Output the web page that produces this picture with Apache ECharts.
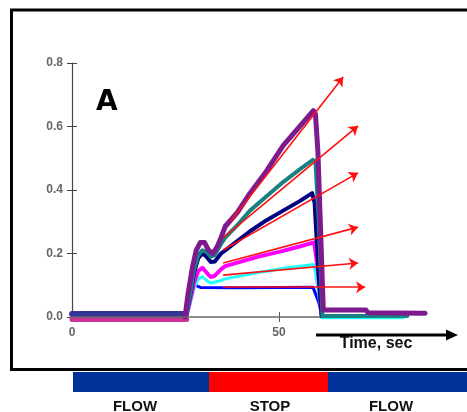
<!DOCTYPE html>
<html>
<head>
<meta charset="utf-8">
<script src="https://cdn.jsdelivr.net/npm/echarts@6/dist/echarts.min.js"></script>
<style>
  html, body { margin: 0; padding: 0; background: #fff; }
  #chart { width: 467px; height: 412px; }
</style>
</head>
<body>
<div id="chart"></div>
<script>
// time (s) / signal pairs
const blueBase = [[0, 0.0095], [27.4, 0.0095]];
const magentaBase = [[0, -0.008], [27.7, -0.008]];

const blue = [[27.3, 0.01], [28.2, 0.05], [29, 0.09], [29.8, 0.1], [31, 0.093], [40, 0.092], [50, 0.093], [58.2, 0.094], [59.5, 0.05], [60.5, 0.0]];
const cyan = [[27.6, 0], [28.5, 0.04], [29.5, 0.09], [30.5, 0.12], [31.5, 0.127], [32.5, 0.115], [33.5, 0.107], [34.5, 0.11], [36, 0.115], [37, 0.12], [45, 0.14], [52, 0.155], [58.5, 0.165], [59.5, 0.08], [60.3, -0.002], [80, -0.002]];
const magenta = [[27.6, 0], [28.5, 0.05], [29.5, 0.11], [30.5, 0.145], [31.5, 0.155], [32.5, 0.14], [33.5, 0.126], [34.5, 0.13], [36, 0.15], [37, 0.16], [41, 0.175], [45, 0.19], [50, 0.205], [55, 0.222], [58.5, 0.235], [59.3, 0.16], [60.3, 0.003]];
const navy = [[27.5, 0], [28.5, 0.065], [29.5, 0.14], [30.5, 0.185], [31.5, 0.2], [32.5, 0.19], [33.5, 0.173], [34.5, 0.175], [36, 0.2], [37, 0.21], [40, 0.24], [43, 0.27], [47, 0.305], [51, 0.335], [55, 0.365], [58, 0.39], [58.6, 0.36], [59.5, 0.15], [60.3, 0.003]];
const teal = [[27.5, 0], [28.5, 0.07], [29.5, 0.15], [30.5, 0.195], [31.5, 0.21], [32.5, 0.205], [33.5, 0.19], [34.5, 0.195], [36, 0.23], [37, 0.25], [40, 0.29], [43, 0.335], [47, 0.38], [51, 0.425], [55, 0.465], [58.2, 0.495], [58.8, 0.49], [59.6, 0.3], [60.5, 0.003], [81, 0.003]];
const purple = [[27.3, 0], [28, 0.07], [29, 0.15], [30, 0.21], [31, 0.235], [32, 0.235], [33, 0.21], [34, 0.2], [35, 0.22], [36, 0.25], [37, 0.285], [40, 0.33], [43, 0.39], [47, 0.46], [51, 0.54], [55, 0.6], [58.3, 0.65], [58.8, 0.64], [59.4, 0.52], [60.7, 0.022], [71, 0.022], [71.5, 0.013], [85.3, 0.012]];

// red slope arrows: [start, tip]
const arrows = [
  [[38.2, 0.30], [65.5, 0.756]],
  [[36.5, 0.249], [69.1, 0.602]],
  [[36.5, 0.211], [69.1, 0.454]],
  [[36.5, 0.170], [69.1, 0.283]],
  [[36.5, 0.132], [69.1, 0.170]],
  [[36.5, 0.094], [70.8, 0.094]]
];

const xTicks = [0, 50];
const xAxisEnd = 60;
const phases = ['FLOW', 'STOP', 'FLOW'];

const chart = echarts.init(document.getElementById('chart'));

function trace(data, color, width) {
  return {
    type: 'line',
    data: data,
    symbol: 'none',
    clip: false,
    silent: true,
    z: 2,
    lineStyle: { color: color, width: width, join: 'round', cap: 'round' }
  };
}

const labelFont = { color: '#666', fontSize: 12, fontWeight: 'bold', fontFamily: 'Liberation Sans' };

chart.setOption({
  animation: false,
  backgroundColor: '#fff',
  // 4.14 px per second, axis drawn up to 60 s, traces run on to ~85 s
  grid: { left: 72, top: 63, width: 372.6, height: 254 },
  xAxis: [
    {
      type: 'value', min: 0, max: 90,
      axisLine: { show: false },
      axisTick: { length: 5, customValues: xTicks, lineStyle: { color: '#555' } },
      axisLabel: Object.assign({ margin: 10, customValues: xTicks }, labelFont),
      splitLine: { show: false }
    },
    {
      type: 'value', min: 0, max: 90, position: 'bottom',
      axisLine: { show: false },
      axisTick: { inside: true, length: 5, customValues: xTicks, lineStyle: { color: '#555' } },
      axisLabel: { show: false },
      splitLine: { show: false }
    }
  ],
  yAxis: [
    {
      type: 'value', min: 0, max: 0.8, interval: 0.2,
      axisLine: { show: true, lineStyle: { color: '#444', width: 1.2 } },
      axisTick: { show: true, length: 5, lineStyle: { color: '#444' } },
      axisLabel: Object.assign({ margin: 9, formatter: v => v.toFixed(1) }, labelFont),
      splitLine: { show: false }
    },
    {
      type: 'value', min: 0, max: 0.8, interval: 0.2, position: 'left',
      axisLine: { show: false },
      axisTick: { show: true, inside: true, length: 5, lineStyle: { color: '#444' } },
      axisLabel: { show: false },
      splitLine: { show: false }
    }
  ],
  series: [
    {
      // x axis line, 0..60 s
      type: 'line',
      data: [],
      silent: true,
      z: 1,
      markLine: {
        silent: true,
        symbol: ['none', 'none'],
        label: { show: false },
        lineStyle: { color: '#666', width: 1.5, type: 'solid' },
        data: [[{ coord: [0, 0] }, { coord: [xAxisEnd, 0] }]]
      }
    },
    trace(magentaBase, '#cc3399', 5),
    trace(blueBase, '#36369a', 6),
    trace(blue, '#0000ff', 3),
    trace(cyan, '#22ffff', 3),
    trace(magenta, '#ff00ff', 4),
    trace(navy, '#000080', 4),
    trace(teal, '#178080', 4),
    trace(purple, '#7d1b8e', 5),
    {
      type: 'lines',
      coordinateSystem: 'cartesian2d',
      clip: false,
      silent: true,
      z: 10,
      symbol: ['none', 'arrow'],
      symbolSize: 9,
      lineStyle: { color: '#ff1010', width: 1.6, opacity: 1 },
      data: arrows.map(a => ({ coords: a }))
    }
  ],
  graphic: [
    { type: 'rect', shape: { x: 11.5, y: 10, width: 480, height: 359.5 }, style: { fill: 'none', stroke: '#000', lineWidth: 3 }, z: 100 },
    { type: 'text', left: 96, top: 89, style: { text: 'A', font: 'bold 28px "DejaVu Sans"', fill: '#000' }, z: 100 },
    { type: 'line', shape: { x1: 316, y1: 335, x2: 448, y2: 335 }, style: { stroke: '#000', lineWidth: 3 }, z: 100 },
    { type: 'polygon', shape: { points: [[446, 329.5], [458, 335], [446, 340.5]] }, style: { fill: '#000' }, z: 100 },
    { type: 'text', x: 376, y: 352, style: { text: 'Time, sec', font: 'bold 16px "Liberation Sans"', fill: '#111', textAlign: 'center', textVerticalAlign: 'bottom' }, z: 100 },
    { type: 'rect', shape: { x: 73, y: 372, width: 136, height: 20 }, style: { fill: '#003399' }, z: 100 },
    { type: 'rect', shape: { x: 209, y: 372, width: 119, height: 20 }, style: { fill: '#ff0000' }, z: 100 },
    { type: 'rect', shape: { x: 328, y: 372, width: 139, height: 20 }, style: { fill: '#003399' }, z: 100 },
    { type: 'text', x: 135, y: 414, style: { text: phases[0], font: 'bold 15px "Liberation Sans"', fill: '#111', textAlign: 'center', textVerticalAlign: 'bottom' }, z: 100 },
    { type: 'text', x: 270, y: 414, style: { text: phases[1], font: 'bold 15px "Liberation Sans"', fill: '#111', textAlign: 'center', textVerticalAlign: 'bottom' }, z: 100 },
    { type: 'text', x: 391, y: 414, style: { text: phases[2], font: 'bold 15px "Liberation Sans"', fill: '#111', textAlign: 'center', textVerticalAlign: 'bottom' }, z: 100 }
  ]
});
</script>
</body>
</html>
